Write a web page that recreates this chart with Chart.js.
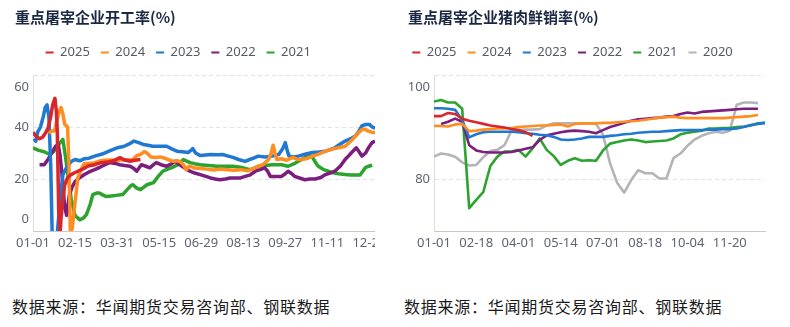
<!DOCTYPE html>
<html>
<head>
<meta charset="utf-8">
<script src="https://cdn.jsdelivr.net/npm/chart.js@4.4.1/dist/chart.umd.min.js"></script>
<style>
  body { margin: 0; background: #fff; width: 790px; height: 327px; overflow: hidden; position: relative; }
  #c1 { position: absolute; left: 15px; top: 0; }
  #c2 { position: absolute; left: 408px; top: 0; }
  .src { position: absolute; top: 294px; font-family: "Noto Sans CJK SC", sans-serif; font-size: 16px; letter-spacing: 0.75px; color: #1a1a1a; white-space: nowrap; }
</style>
</head>
<body>
<canvas id="c1" width="360" height="252"></canvas>
<canvas id="c2" width="382" height="252"></canvas>
<div class="src" style="left:12px">数据来源：华闻期货交易咨询部、钢联数据</div>
<div class="src" style="left:404px">数据来源：华闻期货交易咨询部、钢联数据</div>
<script>
// ---- left chart: 开工率, x = day of year (0 = 01-01) ----
const dayTicks = [0, 45, 90, 135, 180, 225, 270, 315, 360];
const dayTickLabels = ['01-01', '02-15', '03-31', '05-15', '06-29', '08-13', '09-27', '11-11', '12-26'];
const rateTicks = [0, 20, 40, 60];

const rate2025 = [[0,38],[3,36.5],[7,35.5],[10,36],[13,37.5],[16,39.5],[19,44],[21,48.5],[23.5,51],[25,46],[26,38],[27.5,8],[29,-1],[30,5],[32,12],[34,17.8],[37,20.5],[40,21.5],[44,22.3],[48,23],[54,24],[59,25],[66,25.5],[73,26.3],[80,26.5],[86,27],[93,28.2],[98,27.3],[104,26.8],[109,27.2],[115,27.5]];
const rate2024 = [[17,37.5],[20,38.5],[23,38.5],[26,43],[28,46],[30,47.5],[32,45],[34,41],[37,40],[38.5,25],[40,-1],[42,1],[45,11],[48,20.5],[52,24],[55,26],[60,26],[66,26.3],[72,27],[80,27.3],[90,27.2],[100,27.4],[107,27.5],[111,29],[115,29.4],[119,30.5],[122,30],[126,28.5],[131,28.3],[136,28.5],[141,28],[146,27.3],[150,26.8],[155,27],[158,26.5],[161,25.5],[164,23.5],[166,24.5],[168,25],[173,24.2],[179,24],[186,23.8],[193,23.5],[200,23.8],[208,23.6],[215,23.4],[222,23.6],[230,23.2],[236,24],[241,24.9],[246,25.5],[252,27.5],[255,30],[257,33],[259,30],[261,27.5],[266,27.8],[271,27.2],[278,28.3],[283,27.5],[288,27.5],[294,28],[299,28.8],[305,29.5],[313,30.7],[320,31.5],[327,32],[334,32.6],[340,34.5],[345,36.5],[349,38],[352,39],[356,39],[359,38.4],[363,38],[366,37.8]];
const rate2023 = [[1,35.5],[3,34.5],[5,38],[8,40],[11,44],[13,47.5],[15,48.5],[17,44],[19,25],[20.5,-1],[26,-1],[29,12],[32,21.7],[36,24.5],[41,26.8],[45,27.5],[50,27],[55,27.8],[60,28],[66,28.8],[74,29.6],[82,30.8],[90,32],[97,32.5],[103,33.5],[108,34.6],[113,34],[118,33.3],[123,33],[128,32.6],[135,32.6],[143,32.6],[149,31.5],[154,30.7],[160,30.5],[166,30.2],[169,31],[171,31.7],[174,30],[179,29],[185,29.2],[190,29.4],[197,29.3],[203,29.4],[209,28.8],[214,28.3],[220,27.5],[227,26.8],[232,27.5],[236,28],[241,28.8],[248,28.5],[256,28.8],[263,29.4],[267,31.5],[270,34],[272,31],[274,28.8],[279,28.5],[284,28.8],[291,29.5],[299,30.2],[306,30.4],[313,30.7],[318,31.3],[323,32],[329,33.5],[334,34.6],[340,35.5],[345,36.5],[349,38.5],[352,40.4],[356,41],[360,41],[363,40],[366,39.5]];
const rate2022 = [[7,25.5],[12,25.5],[16,27.5],[20,30],[24,32.5],[27,33.3],[29,29],[31,21.7],[34,9],[36,6],[39,14],[42,17],[45,19],[50,20.5],[55,21.7],[60,22.7],[66,23.6],[72,24.6],[77,25.5],[82,26.3],[88,26],[93,25.5],[98,25.2],[104,24.9],[108,24],[111,23],[114,24.5],[116,25.5],[120,25],[125,24.3],[129,25.5],[132,26.3],[137,25.5],[143,24.9],[148,25.8],[152,26.8],[157,25.5],[162,24.3],[168,23],[173,22.3],[179,21.7],[185,21],[190,20.4],[195,20],[200,19.7],[206,20],[211,20.4],[217,20.4],[222,20.4],[227,21],[232,21.5],[238,23],[243,23.6],[248,24.3],[251,23],[254,21],[260,21],[266,21],[270,22],[273,23],[277,22],[280,21],[286,20.3],[291,19.7],[296,20],[302,20],[308,20.6],[313,21.7],[318,22.3],[323,23],[329,25],[334,27.5],[338,29],[341,30.2],[346,32],[349,30.5],[352,28.8],[356,30],[359,32],[363,34],[366,34.6]];
const rate2021 = [[0,32],[6,31],[12,30.5],[18,29.4],[22,30.5],[25,32],[29,34],[32,35.2],[35,28],[38,20],[41,12],[45,6],[50,4.3],[54,5],[57,6.2],[61,10],[64,14],[68,14.6],[71,14.6],[75,13.8],[78,13.3],[84,13.5],[89,13.7],[96,14],[101,16],[105,17.5],[107,17.8],[111,16.5],[115,15.9],[119,17],[122,17.8],[129,18.6],[134,21],[139,23],[144,23.8],[148,24.3],[155,25.5],[158,26.5],[161,27.5],[165,26.8],[168,26.3],[173,25.9],[179,25.5],[188,25.2],[197,24.9],[205,24.9],[214,24.9],[220,24.6],[225,24.3],[232,23.6],[236,24],[241,24.9],[248,25.2],[256,25.5],[266,25.5],[273,24.9],[279,25.8],[284,26.8],[290,28],[295,29.2],[299,28.5],[302,26.5],[305,25],[311,23.6],[316,23],[320,22.5],[327,22],[334,21.7],[340,21.5],[345,21.5],[350,21.5],[353,23],[356,24.5],[360,25],[363,25.3]];

// ---- right chart: 鲜销率, x = period index ----
const weekTicks = [0, 6, 12, 18, 24, 30, 36, 42];
const weekTickLabels = ['01-01', '02-18', '04-01', '05-14', '07-01', '08-18', '10-04', '11-20'];
const freshTicks = [70, 80, 100];

const fresh2025 = [92.1,92.1,92.7,92.5,91.6,91.2,90.9,90.6,90.3,90.1,89.9,89.6,89.4,89.0,88.3];
const fresh2024 = [90.2,90.2,90.1,90.5,90.6,89.2,89.3,89.5,89.6,89.7,89.7,89.8,90.0,90.1,90.2,90.3,90.3,90.4,90.5,90.1,90.6,90.7,90.7,90.7,90.8,90.8,90.9,91.0,91.1,91.2,91.4,91.6,91.8,91.9,92.0,91.8,91.7,91.7,91.7,91.7,91.7,91.7,91.8,91.9,92.0,92.1,92.3];
const fresh2023 = [93.6,93.6,93.5,93.3,91.3,88.0,88.6,89.0,89.1,89.1,89.1,89.1,89.0,88.8,88.7,88.5,88.4,88.1,87.6,87.5,87.6,87.8,88.1,88.1,88.1,88.3,88.4,88.6,88.7,88.9,89.0,89.1,89.1,89.2,89.3,89.4,89.4,89.4,89.4,89.5,89.5,89.6,89.6,89.7,90.0,90.4,90.6,90.8];
const fresh2022 = [null,90.6,91.0,91.6,91.0,86.5,85.5,85.2,85.1,85.1,85.1,85.2,85.5,85.8,86.1,87.5,88.4,88.7,89.0,89.2,89.3,89.2,89.1,88.8,89.4,90.0,90.4,90.8,91.2,91.5,91.6,91.7,91.8,92.0,92.1,92.5,92.8,92.6,92.9,93.0,93.1,93.2,93.3,93.4,93.5,93.5,93.5];
const fresh2021 = [94.9,95.2,94.7,94.7,93.5,74.4,76.0,77.5,82.5,84.3,85.3,85.3,85.6,84.3,85.9,87.8,85.6,84.4,82.7,83.5,84.0,83.5,83.6,83.5,85.5,86.8,87.1,87.4,87.6,87.4,87.1,87.2,87.3,87.4,87.8,88.6,88.9,89.1,89.3,89.7,89.7,89.8,89.8,90.0,90.1,90.3,90.7,90.8];
const fresh2020 = [84.3,84.9,84.7,84.3,83.2,82.6,82.7,84.2,85.4,85.6,86.5,89.3,89.4,89.5,89.5,89.6,90.3,90.7,90.7,90.7,90.7,90.7,90.7,90.6,88.5,83.0,79.3,77.4,79.8,81.7,81.1,81.1,80.1,80.1,84.0,84.9,86.4,87.6,88.3,88.8,89.1,88.9,89.3,94.3,94.7,94.7,94.6];

const colors = { '2025': '#d8262c', '2024': '#ff8d1f', '2023': '#1f78d2', '2022': '#7b1e7e', '2021': '#2ca32c', '2020': '#b4b4b8' };
const numFont = 'Noto Sans';
const tickColor = '#5f6472';

// legend sits a little off the default spot in the original
const legendNudge = {
  id: 'legendNudge',
  afterLayout(chart, args, opts) {
    const lg = chart.legend;
    if (!lg) return;
    lg.left += opts.x || 0; lg.right += opts.x || 0;
    lg.top += opts.y || 0; lg.bottom += opts.y || 0;
  }
};
Chart.register(legendNudge);

function line(year, data, width) {
  return {
    label: year, data,
    borderColor: colors[year], backgroundColor: colors[year],
    borderWidth: width, pointRadius: 0, tension: 0,
    borderJoinStyle: 'round', fill: false
  };
}

function pairs(arr) { return arr.map(p => ({ x: p[0], y: p[1] })); }
function indexed(arr) { return arr.map((v, i) => ({ x: i, y: v })); }

function makeOptions(title, xMax, xTicks, xLabels, yMin, yMax, yTicks, yWidth, nudgeX, padRight) {
  return {
    responsive: false, animation: false,
    layout: { padding: { left: 0, right: padRight, top: 0, bottom: 0 } },
    plugins: {
      title: {
        display: true, text: title, align: 'start', color: '#1b2844',
        font: { family: 'Noto Sans CJK SC', size: 15, weight: 'bold' },
        padding: { top: 8, bottom: 15 }
      },
      legend: {
        align: 'start',
        labels: {
          usePointStyle: true, pointStyle: 'line', pointStyleWidth: 8,
          padding: 11, color: '#555a66',
          font: { family: numFont, size: 13 },
          generateLabels: chart => Chart.defaults.plugins.legend.labels.generateLabels(chart)
            .map(it => Object.assign(it, { lineWidth: 2 }))
        }
      },
      legendNudge: { x: nudgeX, y: -6 },
      tooltip: { enabled: false }
    },
    scales: {
      x: {
        type: 'linear', min: 0, max: xMax,
        afterBuildTicks: s => { s.ticks = xTicks.map(v => ({ value: v })); },
        afterFit: s => { s.paddingLeft = 0; s.paddingRight = 0; s.height = 21; },
        grid: { display: false, drawTicks: false },
        border: { display: true, color: '#c8c8c8', width: 1 },
        ticks: {
          autoSkip: false, maxRotation: 0, padding: 4, color: tickColor,
          font: { family: numFont, size: 13 },
          callback: v => xLabels[xTicks.indexOf(v)]
        }
      },
      y: {
        min: yMin, max: yMax,
        afterBuildTicks: s => { s.ticks = yTicks.map(v => ({ value: v })); },
        afterFit: s => { s.width = yWidth; s.paddingTop = 0; s.paddingBottom = 0; },
        grid: { color: '#e3e3e3', drawTicks: false },
        border: { display: true, color: '#dcdcdc', dash: [4, 3] },
        ticks: {
          padding: 4, color: tickColor,
          font: { family: numFont, size: 13, lineHeight: 1.85 },
          callback: v => {
            if (v === yMin) return v === 0 ? ['0', ''] : '';
            if (v === yMax) return ['', String(v)];
            return String(v);
          }
        }
      }
    }
  };
}

new Chart(document.getElementById('c1'), {
  type: 'line',
  data: {
    datasets: [
      line('2025', pairs(rate2025), 3.5),
      line('2024', pairs(rate2024), 3.5),
      line('2023', pairs(rate2023), 3.5),
      line('2022', pairs(rate2022), 3.5),
      line('2021', pairs(rate2021), 3.5)
    ]
  },
  options: makeOptions('重点屠宰企业开工率(%)', 366, dayTicks, dayTickLabels, 0, 60, rateTicks, 18, 19.6, 0)
});

new Chart(document.getElementById('c2'), {
  type: 'line',
  data: {
    datasets: [
      line('2025', indexed(fresh2025), 2.6),
      line('2024', indexed(fresh2024), 2.6),
      line('2023', indexed(fresh2023), 2.6),
      line('2022', indexed(fresh2022), 2.6),
      line('2021', indexed(fresh2021), 2.6),
      line('2020', indexed(fresh2020), 2.6)
    ]
  },
  options: makeOptions('重点屠宰企业猪肉鲜销率(%)', 47, weekTicks, weekTickLabels, 70, 100, freshTicks, 26, -6.7, 25)
});
</script>
</body>
</html>
